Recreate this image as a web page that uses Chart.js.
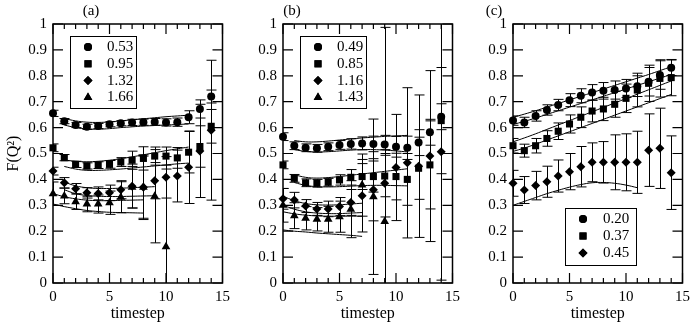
<!DOCTYPE html>
<html>
<head>
<meta charset="utf-8">
<script src="https://cdn.jsdelivr.net/npm/chart.js@4.4.0/dist/chart.umd.min.js"></script>
<style>
  html, body { margin: 0; padding: 0; background: #fff; }
  .wrap { position: relative; width: 695px; height: 322px; }
  canvas { position: absolute; top: 0; }
</style>
</head>
<body>
<div class="wrap">
  <canvas id="panelA" width="235" height="322" style="left:0px"></canvas>
  <canvas id="panelB" width="230" height="322" style="left:235px"></canvas>
  <canvas id="panelC" width="230" height="322" style="left:465px"></canvas>
</div>
<script>
// timesteps
const steps = [0,1,2,3,4,5,6,7,8,9,10,11,12,13,14];

// ---- panel (a) ----
const labelsA = ['0.53', '0.95', '1.32', '1.66'];
const aCircle    = [0.655,0.625,0.61,0.603,0.606,0.613,0.617,0.62,0.621,0.622,0.62,0.621,0.64,0.672,0.72];
const aCircleErr = [0.012,0.01,0.01,0.01,0.01,0.01,0.01,0.012,0.012,0.013,0.014,0.016,0.025,0.035,0.025];
const aSquare    = [0.522,0.484,0.458,0.452,0.455,0.458,0.467,0.474,0.481,0.49,0.49,0.483,0.505,0.527,0.605];
const aSquareErr = [0.015,0.012,0.012,0.012,0.013,0.015,0.017,0.035,0.045,0.035,0.035,0.04,0.08,0.08,0.065];
const aDiamond    = [0.432,0.387,0.364,0.348,0.346,0.348,0.36,0.374,0.37,0.395,0.408,0.413,0.447,0.51,0.59];
const aDiamondErr = [0.015,0.02,0.02,0.02,0.025,0.03,0.035,0.085,0.125,0.07,0.08,0.1,0.14,0.18,0.27];
const aTriangleX   = [0,1,2,3,4,5,6,7,8,9,10];
const aTriangle    = [0.345,0.336,0.314,0.305,0.305,0.31,0.331,0.37,0.37,0.335,0.14];
const aTriangleErr = [0.045,0.03,0.03,0.03,0.035,0.045,0.06,0.08,0.12,0.18,0.3];
// fit bands (a)
const aCircleBandX = [1,2,3,4,5,6,7,8,9,10,11,12];
const aCircleHi = [0.635,0.626,0.621,0.62,0.622,0.626,0.63,0.634,0.638,0.642,0.645,0.648];
const aCircleLo = [0.61,0.6,0.595,0.594,0.596,0.6,0.603,0.606,0.608,0.61,0.612,0.614];
const aSquareBandX = [1,2,3,4,5,6,7,8,9,10,11,12];
const aSquareHi = [0.475,0.47,0.468,0.47,0.474,0.48,0.487,0.495,0.503,0.511,0.518,0.525];
const aSquareLo = [0.45,0.44,0.435,0.435,0.437,0.44,0.444,0.448,0.452,0.456,0.46,0.463];
const aDiamondBandX = [1,2,3,4,5,6,7,8,9];
const aDiamondHi = [0.39,0.375,0.368,0.365,0.365,0.366,0.368,0.37,0.372];
const aDiamondLo = [0.36,0.345,0.338,0.335,0.334,0.334,0.335,0.336,0.337];
const aTriangleBandX = [0,1,2,3,4,5,6,7,8];
const aTriangleHi = [0.345,0.333,0.325,0.32,0.318,0.318,0.319,0.32,0.321];
const aTriangleLo = [0.305,0.295,0.287,0.28,0.276,0.273,0.272,0.271,0.27];

// ---- panel (b) ----
const labelsB = ['0.49', '0.85', '1.16', '1.43'];
const bCircle    = [0.565,0.53,0.522,0.52,0.526,0.533,0.537,0.539,0.537,0.535,0.526,0.522,0.542,0.582,0.642];
const bCircleErr = [0.015,0.015,0.015,0.015,0.015,0.017,0.02,0.025,0.03,0.035,0.04,0.045,0.05,0.05,0.05];
const bSquare    = [0.456,0.404,0.387,0.385,0.389,0.398,0.408,0.411,0.411,0.413,0.411,0.40,0.443,0.456,0.627];
const bSquareErr = [0.015,0.015,0.015,0.015,0.015,0.02,0.03,0.05,0.06,0.08,0.09,0.1,0.12,0.17,0.205];
const bDiamond    = [0.325,0.32,0.297,0.286,0.286,0.295,0.311,0.337,0.36,0.385,0.446,0.464,0.451,0.49,0.507];
const bDiamondErr = [0.04,0.03,0.025,0.025,0.03,0.035,0.05,0.14,0.12,0.13,0.205,0.29,0.275,0.33,0.496];
const bTriangleX   = [0,1,2,3,4,5,6,7,8,9];
const bTriangle    = [0.30,0.26,0.25,0.246,0.246,0.256,0.285,0.378,0.333,0.237];
const bTriangleErr = [0.065,0.05,0.045,0.045,0.05,0.06,0.11,0.12,0.30,0.75];
// fit bands (b)
const bCircleBandX = [1,2,3,4,5,6,7,8,9,10,11];
const bCircleHi = [0.55,0.545,0.545,0.548,0.552,0.556,0.56,0.563,0.566,0.568,0.57];
const bCircleLo = [0.515,0.508,0.506,0.507,0.51,0.513,0.515,0.515,0.513,0.51,0.506];
const bSquareBandX = [1,2,3,4,5,6,7,8,9,10,11];
const bSquareHi = [0.418,0.408,0.405,0.407,0.411,0.416,0.421,0.426,0.431,0.436,0.441];
const bSquareLo = [0.388,0.377,0.372,0.371,0.372,0.374,0.376,0.377,0.377,0.376,0.375];
const bDiamondBandX = [0,1,2,3,4,5,6,7];
const bDiamondHi = [0.335,0.318,0.307,0.302,0.301,0.302,0.305,0.308];
const bDiamondLo = [0.3,0.285,0.275,0.27,0.268,0.268,0.27,0.272];
const bTriangleBandX = [0,1,2,3,4,5,6,7];
const bTriangleHi = [0.275,0.267,0.262,0.259,0.258,0.258,0.258,0.258];
const bTriangleLo = [0.205,0.2,0.197,0.193,0.19,0.187,0.184,0.18];

// ---- panel (c) ----
const labelsC = ['0.20', '0.37', '0.45'];
const cCircle    = [0.627,0.62,0.645,0.668,0.687,0.706,0.723,0.736,0.742,0.745,0.751,0.76,0.777,0.803,0.831];
const cCircleErr = [0.018,0.02,0.02,0.02,0.022,0.025,0.027,0.03,0.032,0.035,0.035,0.04,0.055,0.055,0.03];
const cSquare    = [0.53,0.511,0.53,0.558,0.586,0.614,0.64,0.664,0.672,0.69,0.713,0.745,0.771,0.79,0.793];
const cSquareErr = [0.028,0.025,0.028,0.03,0.032,0.035,0.04,0.042,0.045,0.05,0.055,0.065,0.07,0.072,0.07];
const cDiamond    = [0.385,0.359,0.376,0.391,0.413,0.43,0.449,0.466,0.466,0.466,0.466,0.466,0.513,0.52,0.426];
const cDiamondErr = [0.05,0.052,0.055,0.06,0.062,0.07,0.078,0.075,0.08,0.106,0.11,0.12,0.14,0.155,0.142];
// fit bands (c)
const cCircleHi = [0.64,0.652,0.665,0.679,0.693,0.707,0.721,0.735,0.749,0.763,0.777,0.791,0.805,0.82,0.835];
const cCircleLo = [0.612,0.624,0.637,0.651,0.665,0.679,0.693,0.707,0.721,0.735,0.749,0.763,0.777,0.791,0.805];
const cSquareHi = [0.545,0.56,0.576,0.593,0.61,0.627,0.644,0.661,0.678,0.695,0.712,0.729,0.746,0.763,0.78];
const cSquareLo = [0.508,0.521,0.536,0.552,0.568,0.584,0.6,0.616,0.632,0.648,0.664,0.68,0.696,0.712,0.728];
const cDiamondBandX = [0,1,2,3,4,5,6,7,8,9,10,11];
const cDiamondLo = [0.30,0.315,0.33,0.345,0.358,0.37,0.38,0.387,0.388,0.385,0.378,0.368];

const FONT = 'Liberation Serif';

function pts(xs, ys) {
  return ys.map(function(y, i) { return { x: xs[i], y: y }; });
}

function series(label, xs, ys, err, style, r) {
  return {
    type: 'scatter', label: label, data: pts(xs, ys), err: err,
    pointStyle: style, pointRadius: r, pointHoverRadius: r,
    backgroundColor: '#000', borderColor: '#000', borderWidth: 0,
    clip: false, inLegend: true
  };
}

function band(xs, ys) {
  return {
    type: 'line', data: pts(xs, ys), borderColor: '#000', borderWidth: 1,
    pointRadius: 0, tension: 0.4, fill: false, inLegend: false
  };
}

// frame, inward ticks, error bars, panel label and legend box
function makeDeco(panel) {
  return {
    id: 'deco',
    beforeDatasetsDraw: function(chart) {
      const ctx = chart.ctx, xs = chart.scales.x, ys = chart.scales.y, a = chart.chartArea;
      ctx.save();
      ctx.beginPath();
      ctx.rect(a.left, a.top, a.right - a.left, a.bottom - a.top);
      ctx.clip();
      ctx.strokeStyle = '#000';
      ctx.lineWidth = 1;
      chart.data.datasets.forEach(function(ds) {
        if (!ds.err) return;
        ds.data.forEach(function(p, i) {
          const e = ds.err[i];
          const px = Math.round(xs.getPixelForValue(p.x)) + 0.5;
          const top = ys.getPixelForValue(p.y + e);
          const bot = ys.getPixelForValue(p.y - e);
          ctx.beginPath();
          ctx.moveTo(px, top); ctx.lineTo(px, bot);
          ctx.moveTo(px - 5, top); ctx.lineTo(px + 5, top);
          ctx.moveTo(px - 5, bot); ctx.lineTo(px + 5, bot);
          ctx.stroke();
        });
      });
      ctx.restore();
    },
    afterDraw: function(chart) {
      const ctx = chart.ctx, xs = chart.scales.x, ys = chart.scales.y, a = chart.chartArea;
      ctx.save();
      ctx.strokeStyle = '#000';
      ctx.lineWidth = 1.5;
      ctx.strokeRect(a.left, a.top, a.right - a.left, a.bottom - a.top);
      ctx.lineWidth = 1.2;
      ctx.beginPath();
      ys.ticks.forEach(function(t) {
        const y = ys.getPixelForValue(t.value);
        ctx.moveTo(a.left, y); ctx.lineTo(a.left + 10, y);
        ctx.moveTo(a.right, y); ctx.lineTo(a.right - 10, y);
      });
      for (let v = xs.min; v <= xs.max; v++) {
        const x = xs.getPixelForValue(v);
        const len = v % 5 === 0 ? 10 : 5;
        ctx.moveTo(x, a.bottom); ctx.lineTo(x, a.bottom - len);
        ctx.moveTo(x, a.top); ctx.lineTo(x, a.top + len);
      }
      ctx.stroke();

      // panel label
      ctx.fillStyle = '#000';
      ctx.font = '15px "' + FONT + '"';
      ctx.textAlign = 'center';
      ctx.textBaseline = 'middle';
      ctx.fillText(panel.name, panel.nameX, 11);

      // legend
      const lg = panel.legend;
      ctx.fillStyle = '#fff';
      ctx.fillRect(lg.x, lg.y, lg.w, lg.h);
      ctx.lineWidth = 1;
      ctx.strokeRect(lg.x + 0.5, lg.y + 0.5, lg.w, lg.h);
      ctx.textAlign = 'left';
      let row = 0;
      chart.data.datasets.forEach(function(ds) {
        if (!ds.inLegend) return;
        const y = lg.row0 + row * lg.rowStep;
        ctx.fillStyle = '#000';
        Chart.helpers.drawPoint(ctx, { pointStyle: ds.pointStyle, radius: ds.pointRadius, rotation: 0, borderWidth: 0 }, lg.symX, y);
        ctx.fill();
        ctx.fillText(ds.label, lg.textX, y);
        row++;
      });
      ctx.restore();
    }
  };
}

function makeChart(id, datasets, panel) {
  return new Chart(document.getElementById(id), {
    data: { datasets: datasets },
    options: {
      responsive: false,
      animation: false,
      layout: { padding: { top: 24, right: 9, bottom: 0, left: 0 } },
      plugins: { legend: { display: false }, tooltip: { enabled: false } },
      scales: {
        x: {
          type: 'linear', min: 0, max: 15,
          grid: { display: false, drawTicks: false },
          border: { display: false },
          ticks: { stepSize: 5, padding: 5, color: '#000', font: { family: FONT, size: 15 } },
          title: { display: true, text: 'timestep', color: '#000', font: { family: FONT, size: 16 }, padding: { top: 0, bottom: -1 } },
          afterFit: function(s) { s.height = 39; }
        },
        y: {
          type: 'linear', min: 0, max: 1,
          grid: { display: false, drawTicks: false },
          border: { display: false },
          ticks: {
            stepSize: 0.1, padding: 6, color: '#000', font: { family: FONT, size: 15 },
            callback: function(v) { return String(Math.round(v * 10) / 10); }
          },
          title: { display: panel.yTitle, text: 'F(Q²)', color: '#000', font: { family: FONT, size: 16 }, padding: { top: 4, bottom: 0 } },
          afterFit: function(s) { s.width = panel.yWidth; }
        }
      }
    },
    plugins: [makeDeco(panel)]
  });
}

makeChart('panelA', [
  band(aCircleBandX, aCircleHi), band(aCircleBandX, aCircleLo),
  band(aSquareBandX, aSquareHi), band(aSquareBandX, aSquareLo),
  band(aDiamondBandX, aDiamondHi), band(aDiamondBandX, aDiamondLo),
  band(aTriangleBandX, aTriangleHi), band(aTriangleBandX, aTriangleLo),
  series(labelsA[0], steps, aCircle, aCircleErr, 'circle', 4),
  series(labelsA[1], steps, aSquare, aSquareErr, 'rect', 5),
  series(labelsA[2], steps, aDiamond, aDiamondErr, 'rectRot', 4.5),
  series(labelsA[3], aTriangleX, aTriangle, aTriangleErr, 'triangle', 5)
], { name: '(a)', nameX: 91, yTitle: true, yWidth: 53,
     legend: { x: 70, y: 36, w: 66, h: 72, symX: 88, textX: 107, row0: 47, rowStep: 16.8 } });

makeChart('panelB', [
  band(bCircleBandX, bCircleHi), band(bCircleBandX, bCircleLo),
  band(bSquareBandX, bSquareHi), band(bSquareBandX, bSquareLo),
  band(bDiamondBandX, bDiamondHi), band(bDiamondBandX, bDiamondLo),
  band(bTriangleBandX, bTriangleHi), band(bTriangleBandX, bTriangleLo),
  series(labelsB[0], steps, bCircle, bCircleErr, 'circle', 4),
  series(labelsB[1], steps, bSquare, bSquareErr, 'rect', 5),
  series(labelsB[2], steps, bDiamond, bDiamondErr, 'rectRot', 4.5),
  series(labelsB[3], bTriangleX, bTriangle, bTriangleErr, 'triangle', 5)
], { name: '(b)', nameX: 57, yTitle: false, yWidth: 48,
     legend: { x: 65, y: 36, w: 66, h: 72, symX: 83, textX: 102, row0: 47, rowStep: 16.8 } });

makeChart('panelC', [
  band(steps, cCircleHi), band(steps, cCircleLo),
  band(steps, cSquareHi), band(steps, cSquareLo),
  band(cDiamondBandX, cDiamondLo),
  series(labelsC[0], steps, cCircle, cCircleErr, 'circle', 4),
  series(labelsC[1], steps, cSquare, cSquareErr, 'rect', 5),
  series(labelsC[2], steps, cDiamond, cDiamondErr, 'rectRot', 4.5)
], { name: '(c)', nameX: 29, yTitle: false, yWidth: 48,
     legend: { x: 100, y: 208, w: 71, h: 57, symX: 118, textX: 138, row0: 219, rowStep: 17 } });
</script>
</body>
</html>
